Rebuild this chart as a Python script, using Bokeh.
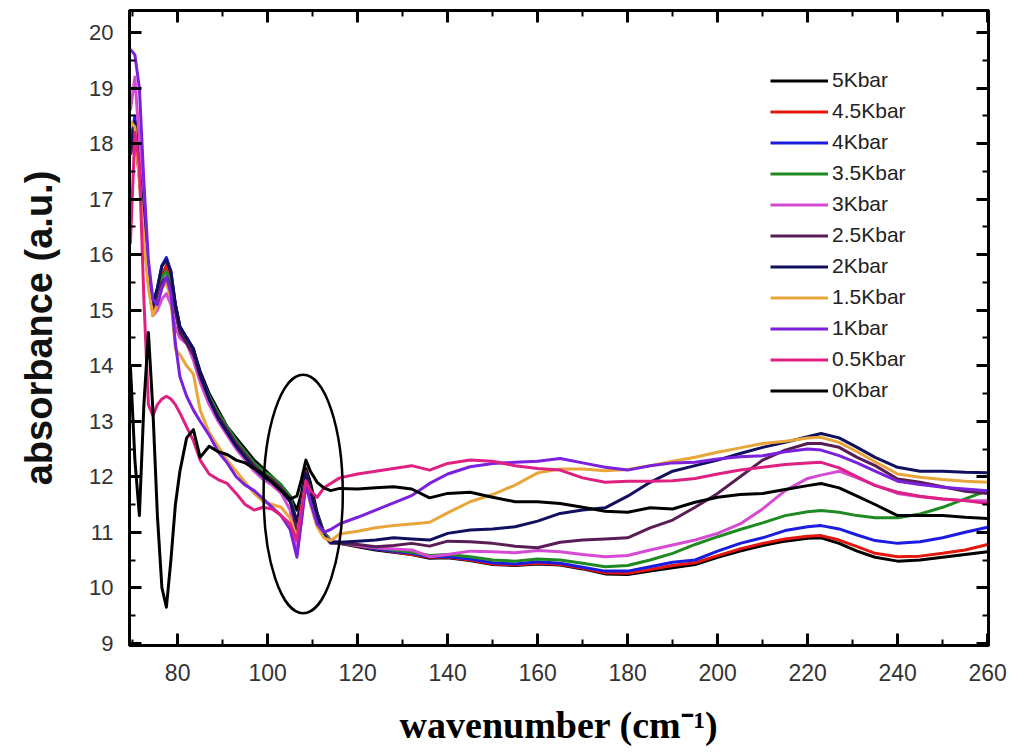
from bokeh.plotting import figure
from bokeh.models import (Range1d, LinearAxis, SingleIntervalTicker, CustomJSTickFormatter,
                          Legend, LegendItem)
from bokeh.embed import file_html
from bokeh.resources import INLINE

# ---------------- data ----------------
wavenumber = [69.5, 70.5, 71.5, 72.5, 73.5, 74.5, 75.5, 76.5, 77.5, 78.5, 79.5, 80.5,
              82, 83.5, 85, 87, 89, 91, 93, 95, 97, 99, 101, 103, 105, 106.5, 107.5,
              108.5, 109.5, 111, 112.5, 114,
              116, 120, 124, 128, 132, 136, 140, 145, 150, 155, 160, 165, 170, 175,
              180, 185, 190, 195, 200, 205, 210, 215, 220, 223, 227, 231, 235, 240,
              245, 250, 255, 260]

labels = ["5Kbar", "4.5Kbar", "4Kbar", "3.5Kbar", "3Kbar", "2.5Kbar",
          "2Kbar", "1.5Kbar", "1Kbar", "0.5Kbar", "0Kbar"]

abs_5k = [17.8, 18.2, 17.4, 16.4, 15.6, 15.1, 15.3, 15.6, 15.8, 15.6, 15.1, 14.7,
          14.5, 14.3, 13.9, 13.5, 13.2, 12.9, 12.7, 12.5, 12.3, 12.15, 12.0, 11.85,
          11.65, 11.4, 11.7, 12.15, 11.9, 11.35, 11.0, 10.85,
          10.8, 10.74, 10.68, 10.64, 10.6, 10.53, 10.54, 10.49, 10.42, 10.4, 10.43,
          10.41, 10.34, 10.25, 10.24, 10.3, 10.36, 10.42, 10.55, 10.66, 10.76, 10.84,
          10.89, 10.9, 10.8, 10.66, 10.55, 10.48, 10.5, 10.55, 10.6, 10.65]
abs_4_5k = [17.9, 18.3, 17.5, 16.4, 15.5, 15.0, 15.3, 15.6, 15.8, 15.5, 15.0, 14.6,
            14.4, 14.2, 13.8, 13.4, 13.1, 12.85, 12.6, 12.4, 12.2, 12.05, 11.95, 11.8,
            11.6, 11.2, 11.55, 12.0, 11.75, 11.3, 11.0, 10.85,
            10.8, 10.75, 10.7, 10.65, 10.6, 10.55, 10.55, 10.5, 10.43, 10.41, 10.44,
            10.42, 10.35, 10.27, 10.26, 10.33, 10.4, 10.45, 10.58, 10.7, 10.8, 10.88,
            10.93, 10.94, 10.86, 10.74, 10.62, 10.56, 10.57, 10.62, 10.68, 10.78]
abs_4k = [18.0, 18.5, 17.6, 16.5, 15.6, 15.1, 15.4, 15.8, 15.95, 15.7, 15.1, 14.7,
          14.5, 14.3, 13.85, 13.45, 13.1, 12.85, 12.6, 12.4, 12.2, 12.05, 11.95, 11.8,
          11.6, 11.15, 11.5, 12.0, 11.7, 11.25, 10.95, 10.82,
          10.8, 10.76, 10.7, 10.66, 10.62, 10.56, 10.56, 10.52, 10.45, 10.43, 10.47,
          10.44, 10.37, 10.3, 10.3, 10.38, 10.46, 10.5, 10.66, 10.8, 10.9, 11.03,
          11.1, 11.12, 11.06, 10.95, 10.85, 10.8, 10.83, 10.9, 11.0, 11.09]
abs_3_5k = [17.9, 18.4, 17.5, 16.4, 15.5, 15.0, 15.3, 15.6, 15.7, 15.5, 15.0, 14.6,
            14.45, 14.2, 13.8, 13.45, 13.15, 12.9, 12.65, 12.45, 12.25, 12.1, 12.0, 11.85,
            11.65, 11.15, 11.5, 12.05, 11.75, 11.3, 11.0, 10.85,
            10.8, 10.76, 10.72, 10.68, 10.64, 10.58, 10.6, 10.56, 10.5, 10.48, 10.52,
            10.5, 10.44, 10.38, 10.4, 10.5, 10.62, 10.78, 10.92, 11.05, 11.17, 11.3,
            11.37, 11.39, 11.36, 11.3, 11.26, 11.26, 11.33, 11.45, 11.6, 11.75]
abs_3k = [18.6, 19.2, 18.0, 16.6, 15.5, 14.9, 15.0, 15.2, 15.3, 15.1, 14.7, 14.5,
          14.4, 14.1, 13.7, 13.3, 13.0, 12.75, 12.5, 12.3, 12.1, 11.95, 11.85, 11.7,
          11.4, 10.6, 11.2, 11.95, 11.6, 11.2, 10.95, 10.85,
          10.82, 10.76, 10.72, 10.7, 10.68, 10.56, 10.6, 10.66, 10.65, 10.63, 10.67,
          10.65, 10.6, 10.56, 10.58, 10.68, 10.77, 10.86, 10.98, 11.15, 11.42, 11.75,
          11.97, 12.03, 12.1, 11.98, 11.85, 11.7, 11.64, 11.6, 11.57, 11.57]
abs_2_5k = [17.8, 18.3, 17.4, 16.4, 15.5, 15.0, 15.2, 15.5, 15.6, 15.4, 15.0, 14.6,
            14.4, 14.2, 13.8, 13.4, 13.1, 12.85, 12.6, 12.4, 12.2, 12.05, 11.95, 11.8,
            11.6, 11.0, 11.5, 12.1, 11.75, 11.25, 10.95, 10.8,
            10.8, 10.78, 10.74, 10.76, 10.8, 10.75, 10.84, 10.83, 10.8, 10.75, 10.72,
            10.82, 10.86, 10.88, 10.9, 11.08, 11.22, 11.45, 11.7, 12.0, 12.3, 12.48,
            12.6, 12.6, 12.53, 12.35, 12.2, 11.96, 11.9, 11.82, 11.74, 11.7]
abs_2k = [17.9, 18.4, 17.5, 16.5, 15.6, 15.1, 15.4, 15.8, 15.9, 15.7, 15.1, 14.7,
          14.5, 14.3, 13.85, 13.4, 13.05, 12.8, 12.55, 12.35, 12.15, 12.0, 11.9, 11.75,
          11.55, 11.2, 11.5, 12.05, 11.75, 11.3, 10.95, 10.82,
          10.82, 10.84, 10.86, 10.9, 10.88, 10.86, 10.98, 11.04, 11.06, 11.1, 11.2,
          11.34, 11.4, 11.44, 11.65, 11.9, 12.1, 12.2, 12.3, 12.42, 12.53, 12.62,
          12.72, 12.78, 12.7, 12.53, 12.35, 12.17, 12.1, 12.1, 12.08, 12.07]
abs_1_5k = [18.4, 18.3, 17.3, 16.3, 15.4, 14.9, 15.1, 15.4, 15.5, 15.2, 14.3, 14.2,
            14.0, 13.85, 13.2, 12.8, 12.55, 12.3, 12.1, 11.9, 11.7, 11.55, 11.5, 11.45,
            11.25, 10.9, 11.4, 11.9, 11.5, 11.1, 10.9, 10.85,
            10.97, 11.02, 11.08, 11.12, 11.15, 11.18, 11.35, 11.55, 11.68, 11.85, 12.07,
            12.14, 12.14, 12.11, 12.13, 12.2, 12.28, 12.35, 12.44, 12.52, 12.6, 12.64,
            12.7, 12.71, 12.62, 12.45, 12.27, 12.05, 11.99, 11.95, 11.92, 11.9]
abs_1k = [19.7, 19.6, 19.0, 17.3, 15.9, 15.2, 15.1, 15.4, 15.6, 15.3, 14.4, 13.8,
          13.45, 13.2, 13.0, 12.75, 12.45, 12.25, 12.0, 11.85, 11.75, 11.6, 11.45, 11.3,
          11.05, 10.55, 11.2, 11.85, 11.55, 11.15, 11.0, 11.05,
          11.15, 11.27, 11.4, 11.53, 11.66, 11.88, 12.05, 12.18, 12.24, 12.26, 12.28,
          12.33, 12.25, 12.17, 12.12, 12.2, 12.25, 12.26, 12.32, 12.36, 12.38, 12.45,
          12.5, 12.48, 12.38, 12.25, 12.1, 11.92, 11.86, 11.81, 11.78, 11.75]
abs_0_5k = [16.2, 18.2, 17.6, 15.2, 13.3, 13.1, 13.3, 13.4, 13.45, 13.4, 13.3, 13.15,
            12.9, 12.65, 12.3, 12.05, 11.95, 11.88, 11.7, 11.5, 11.4, 11.45, 11.42, 11.3,
            11.15, 10.85, 11.4, 11.93, 11.75, 11.63, 11.8, 11.88,
            11.98, 12.05, 12.1, 12.15, 12.2, 12.12, 12.24, 12.3, 12.28, 12.2, 12.15,
            12.12, 11.98, 11.9, 11.92, 11.92, 11.93, 11.97, 12.05, 12.12, 12.17, 12.22,
            12.25, 12.26, 12.16, 12.0, 11.84, 11.72, 11.65, 11.6, 11.57, 11.52]
abs_0k = [14.0, 12.3, 11.3, 13.3, 14.6, 13.2, 11.3, 10.0, 9.65, 10.5, 11.5, 12.1,
          12.7, 12.85, 12.35, 12.55, 12.45, 12.4, 12.3, 12.25, 12.15, 12.05, 11.9, 11.75,
          11.6, 11.65, 11.95, 12.3, 12.1, 11.9, 11.8, 11.75,
          11.79, 11.78, 11.8, 11.82, 11.78, 11.62, 11.7, 11.72, 11.63, 11.55, 11.55,
          11.52, 11.45, 11.38, 11.36, 11.44, 11.42, 11.54, 11.63, 11.68, 11.7, 11.77,
          11.84, 11.88, 11.8, 11.65, 11.5, 11.3, 11.3, 11.3, 11.27, 11.25]

series = [abs_5k, abs_4_5k, abs_4k, abs_3_5k, abs_3k, abs_2_5k,
          abs_2k, abs_1_5k, abs_1k, abs_0_5k, abs_0k]

colors = ["#000000", "#e4160e", "#1c1ce0", "#1f8a22", "#d64bd4", "#5a1c55",
          "#10105e", "#e8a63a", "#7b20dc", "#df1f82", "#000000"]

# highlighted region (ellipse annotation)
ellipse_x = [107.9]
ellipse_y = [11.69]
ellipse_w = [17.6]
ellipse_h = [4.3]

# ---------------- figure ----------------
p = figure(width=1011, height=755, output_backend="svg", toolbar_location=None,
           x_range=Range1d(69.3, 260.2), y_range=Range1d(8.96, 20.4),
           min_border_left=129, min_border_right=23, min_border_top=10,
           min_border_bottom=110, background_fill_color="white",
           border_fill_color="white")
p.xgrid.visible = False
p.ygrid.visible = False
p.outline_line_color = "black"
p.outline_line_width = 3

renderers = []
for ys, c in zip(series, colors):
    r = p.line(wavenumber, ys, line_color=c, line_width=3, line_join="round")
    renderers.append(r)

p.ellipse(x=ellipse_x, y=ellipse_y, width=ellipse_w, height=ellipse_h,
          fill_color=None, line_color="black", line_width=2.5)

xt = SingleIntervalTicker(interval=20, num_minor_ticks=2)
yt = SingleIntervalTicker(interval=1, num_minor_ticks=2)

def style_axis(ax):
    ax.axis_line_width = 3
    ax.axis_line_color = "black"
    ax.major_tick_line_width = 3
    ax.minor_tick_line_width = 2
    ax.major_tick_in = 12
    ax.major_tick_out = 0
    ax.minor_tick_in = 6
    ax.minor_tick_out = 0

xa = p.xaxis[0]
xa.ticker = xt
style_axis(xa)
xa.major_label_text_font = "Liberation Sans"
xa.major_label_text_font_size = "23px"
xa.major_label_text_color = "#333333"
xa.major_label_standoff = 18
xa.axis_label = "wavenumber (cm\u207b\u00b9)"
xa.axis_label_text_font = "Liberation Serif"
xa.axis_label_text_font_style = "bold"
xa.axis_label_text_font_size = "38px"
xa.axis_label_text_color = "black"
xa.axis_label_standoff = 20

ya = p.yaxis[0]
ya.ticker = yt
style_axis(ya)
ya.major_label_text_font = "Liberation Sans"
ya.major_label_text_font_size = "22px"
ya.major_label_text_color = "#333333"
ya.major_label_standoff = 16
ya.axis_label = "absorbance (a.u.)"
ya.axis_label_text_font = "Liberation Sans"
ya.axis_label_text_font_style = "bold"
ya.axis_label_text_font_size = "38px"
ya.axis_label_text_color = "#111111"
ya.axis_label_standoff = 26

blank = CustomJSTickFormatter(code="return ''")
top = LinearAxis(ticker=SingleIntervalTicker(interval=20, num_minor_ticks=2),
                 formatter=blank, major_label_standoff=0,
                 major_label_text_font_size="1px")
style_axis(top)
p.add_layout(top, "above")
right = LinearAxis(ticker=SingleIntervalTicker(interval=1, num_minor_ticks=2),
                   formatter=blank, major_label_standoff=0,
                   major_label_text_font_size="1px")
style_axis(right)
p.add_layout(right, "right")

items = [LegendItem(label=lab, renderers=[r]) for lab, r in zip(labels, renderers)]
legend = Legend(items=items, location=(641, 243), glyph_width=58, glyph_height=21,
                label_height=21, spacing=7, padding=0, margin=0, label_standoff=4,
                border_line_color=None, background_fill_alpha=0,
                label_text_font="Liberation Sans", label_text_font_size="21px",
                label_text_color="#222222")
p.add_layout(legend)

open("out.html", "w").write(file_html(p, INLINE))
